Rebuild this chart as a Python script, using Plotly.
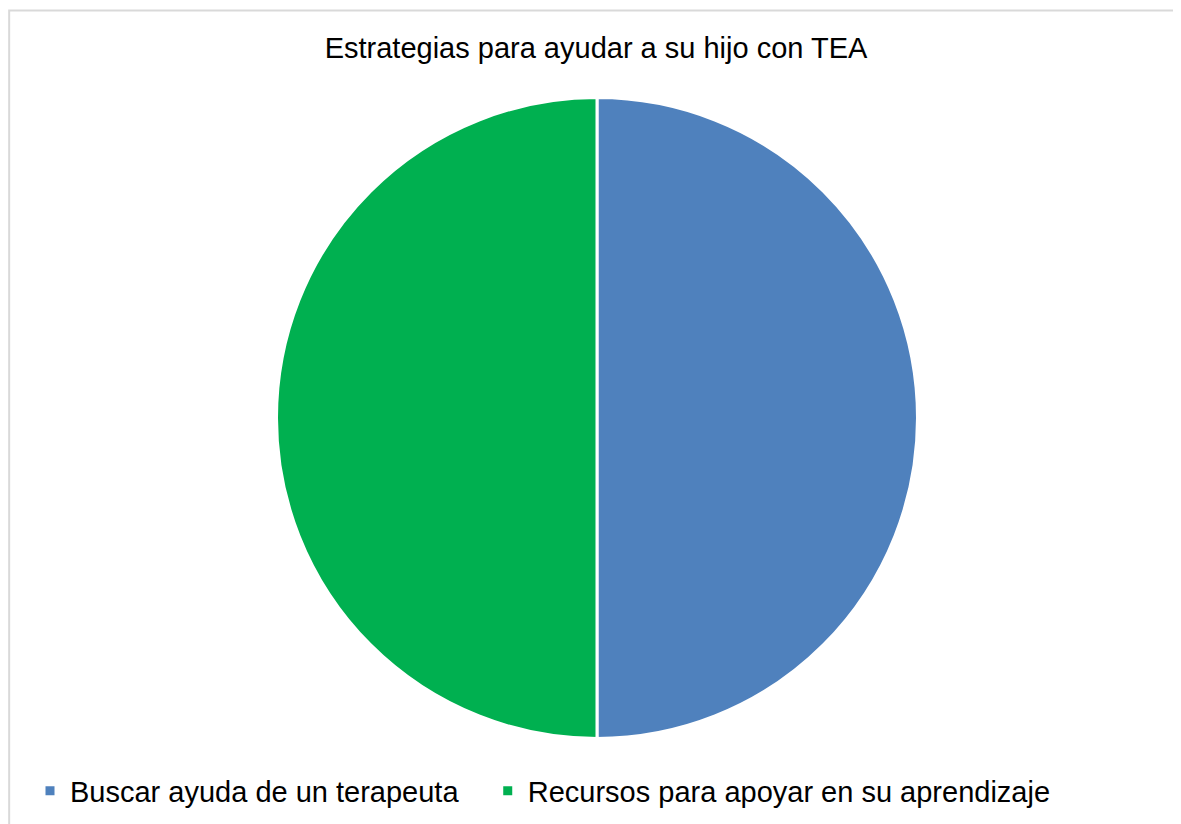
import plotly.graph_objects as go

# Datos del gráfico
categorias = ['Buscar ayuda de un terapeuta', 'Recursos para apoyar en su aprendizaje']
valores = [50, 50]
colores = ['#4F81BD', '#00B050']

# la página deja 8px de margen al div, así que el lienzo es algo menor
W, H = 1173, 816
OFF = 8


def px_x(x):
    return (x - OFF) / W


def px_y(y):
    return 1 - (y - OFF) / H


# espacios duros al final de la primera etiqueta para separar las entradas de la leyenda
etiquetas = [categorias[0] + '\u00a0' * 3, categorias[1]]

fig = go.Figure()

fig.add_trace(go.Pie(
    labels=etiquetas,
    values=valores,
    sort=False,
    direction='clockwise',
    rotation=0,
    marker=dict(colors=colores, line=dict(color='white', width=3)),
    textinfo='none',
    hovertemplate='%{label}: %{value}<extra></extra>',
    domain=dict(x=[px_x(276.5), px_x(917.5)], y=[px_y(738.5), px_y(97.5)]),
))

fig.update_layout(
    width=W,
    height=H,
    margin=dict(l=0, r=0, t=0, b=0),
    paper_bgcolor='white',
    font=dict(family='Liberation Sans, Arial, sans-serif', color='black'),
    title=dict(
        text='Estrategias para ayudar a su hijo con TEA',
        font=dict(size=29, color='black'),
        x=px_x(596), xanchor='center',
        y=px_y(48), yanchor='middle',
    ),
    legend=dict(
        orientation='h',
        x=px_x(30), xanchor='left',
        y=px_y(791), yanchor='middle',
        font=dict(size=29, color='black'),
        itemclick=False,
    ),
    # marco gris del gráfico
    shapes=[dict(
        type='rect', xref='paper', yref='paper',
        x0=0.001, x1=1.02, y0=-0.02, y1=1 - 2.5 / H,
        line=dict(color='#D9D9D9', width=2),
        fillcolor='rgba(0,0,0,0)',
    )],
)

fig.write_html("out.html")
